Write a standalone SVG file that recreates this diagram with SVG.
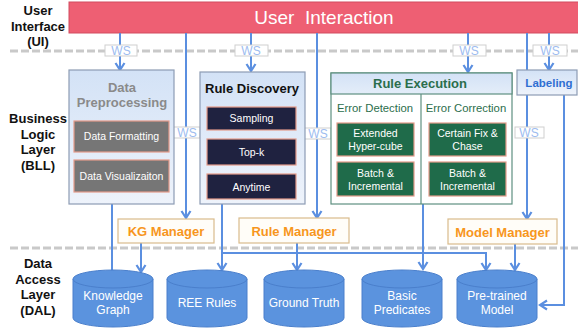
<svg xmlns="http://www.w3.org/2000/svg" width="578" height="335" viewBox="0 0 578 335">
  <defs>
    <linearGradient id="paneFill" x1="0" y1="0" x2="0" y2="1">
      <stop offset="0" stop-color="#d3e2f6"/>
      <stop offset="1" stop-color="#eef3fb"/>
    </linearGradient>
    <linearGradient id="headFill" x1="0" y1="0" x2="0" y2="1">
      <stop offset="0" stop-color="#d3e2f6"/>
      <stop offset="1" stop-color="#e4edf9"/>
    </linearGradient>
    <marker id="arrow" markerUnits="userSpaceOnUse" markerWidth="12" markerHeight="12" refX="10" refY="6" orient="auto">
      <path d="M3,1.5 L10,6 L3,10.5" fill="none" stroke="#5b8fe0" stroke-width="2.2"/>
    </marker>
  </defs>
  <style>
    .layer { font-family: "Liberation Sans", Arial, sans-serif; font-size: 13px; font-weight: bold; fill: #111; text-anchor: middle; }
    .sep { stroke: #c9c9c9; stroke-width: 3; stroke-dasharray: 8 3; fill: none; }
    .wire { stroke: #5b8fe0; stroke-width: 2; fill: none; }
    .ws rect { fill: #fff; stroke: #cfcfcf; stroke-width: 1; }
    .ws text { font-family: "Liberation Sans", Arial, sans-serif; font-size: 12px; fill: #9dbcef; text-anchor: middle; }
    .pane { fill: url(#paneFill); stroke: #8d9cb4; stroke-width: 1.2; }
    .title { font-family: "Liberation Sans", Arial, sans-serif; font-size: 13px; font-weight: bold; text-anchor: middle; }
    .item { stroke: #e59b8a; stroke-width: 1.2; }
    .item-txt { font-family: "Liberation Sans", Arial, sans-serif; font-size: 10.5px; fill: #fff; text-anchor: middle; }
    .grey { fill: #767676; }
    .navy { fill: #1f2240; }
    .green { fill: #1f6b4a; }
    .sub { font-family: "Liberation Sans", Arial, sans-serif; font-size: 11.3px; fill: #2b6e4c; text-anchor: middle; }
    .mgr rect { fill: #fffdf8; stroke: #d9bb8c; stroke-width: 1.2; }
    .mgr text { font-family: "Liberation Sans", Arial, sans-serif; font-size: 13px; font-weight: bold; fill: #f7961d; text-anchor: middle; }
    .db path, .db ellipse { fill: #5b93de; stroke: #4a7fcc; stroke-width: 1; }
    .db text { font-family: "Liberation Sans", Arial, sans-serif; font-size: 12px; fill: #fff; text-anchor: middle; }
  </style>

  <!-- layer captions -->
  <g id="layer-labels">
    <text class="layer" x="38" y="15">User</text>
    <text class="layer" x="38" y="31">Interface</text>
    <text class="layer" x="38" y="46">(UI)</text>
    <text class="layer" x="38" y="123">Business</text>
    <text class="layer" x="38" y="139">Logic</text>
    <text class="layer" x="38" y="154">Layer</text>
    <text class="layer" x="38" y="170">(BLL)</text>
    <text class="layer" x="38" y="268">Data</text>
    <text class="layer" x="38" y="284">Access</text>
    <text class="layer" x="38" y="299">Layer</text>
    <text class="layer" x="38" y="315">(DAL)</text>
  </g>

  <!-- layer separators -->
  <g id="separators">
    <line class="sep" x1="10" y1="51" x2="578" y2="51"/>
    <line class="sep" x1="10" y1="248" x2="578" y2="248"/>
  </g>

  <!-- UI bar -->
  <g id="user-interaction">
    <rect x="69" y="2" width="511" height="31" fill="#ee5f73" stroke="#d24d61" stroke-width="1"/>
    <text x="324" y="24" font-family="'Liberation Sans', Arial, sans-serif" font-size="19" fill="#fff" text-anchor="middle" xml:space="preserve">User  Interaction</text>
  </g>

  <!-- connectors -->
  <g id="connectors">
    <line class="wire" x1="120" y1="33" x2="120" y2="70" marker-end="url(#arrow)"/>
    <line class="wire" x1="186" y1="33" x2="186" y2="218" marker-end="url(#arrow)"/>
    <line class="wire" x1="251" y1="33" x2="251" y2="71" marker-end="url(#arrow)"/>
    <line class="wire" x1="317" y1="33" x2="317" y2="218" marker-end="url(#arrow)"/>
    <line class="wire" x1="468" y1="33" x2="468" y2="72" marker-end="url(#arrow)"/>
    <line class="wire" x1="527" y1="33" x2="527" y2="219" marker-end="url(#arrow)"/>
    <line class="wire" x1="549" y1="33" x2="549" y2="70" marker-end="url(#arrow)"/>
    <polyline class="wire" points="564,95 564,305 540,305" marker-end="url(#arrow)"/>
    <line class="wire" x1="112" y1="204" x2="112" y2="272"/>
    <line class="wire" x1="141" y1="243" x2="141" y2="272" marker-end="url(#arrow)"/>
    <line class="wire" x1="222" y1="204" x2="222" y2="270" marker-end="url(#arrow)"/>
    <polyline class="wire" points="222,253 486,253 486,270" marker-end="url(#arrow)"/>
    <line class="wire" x1="297" y1="243" x2="297" y2="270" marker-end="url(#arrow)"/>
    <line class="wire" x1="423" y1="204" x2="423" y2="269" marker-end="url(#arrow)"/>
    <line class="wire" x1="515" y1="244" x2="515" y2="270" marker-end="url(#arrow)"/>

    <g class="ws"><rect x="105" y="45" width="32" height="11"/><text x="121" y="55">WS</text></g>
    <g class="ws"><rect x="235" y="45" width="33" height="11"/><text x="251" y="55">WS</text></g>
    <g class="ws"><rect x="453" y="45" width="33" height="11"/><text x="469" y="55">WS</text></g>
    <g class="ws"><rect x="533" y="45" width="34" height="11"/><text x="550" y="55">WS</text></g>
    <g class="ws"><rect x="173" y="127" width="27" height="11"/><text x="187" y="137">WS</text></g>
    <g class="ws"><rect x="304" y="128" width="27" height="11"/><text x="318" y="138">WS</text></g>
    <g class="ws"><rect x="515" y="127" width="29" height="11"/><text x="529" y="137">WS</text></g>
  </g>

  <!-- Data Preprocessing -->
  <g id="data-preprocessing">
    <rect class="pane" x="69" y="70" width="105" height="134"/>
    <text class="title" x="122" y="92" fill="#8a8a8a">Data</text>
    <text class="title" x="122" y="107" fill="#8a8a8a">Preprocessing</text>
    <rect class="item grey" x="74" y="121" width="95" height="31"/>
    <text class="item-txt" x="121.5" y="140">Data Formatting</text>
    <rect class="item grey" x="74" y="160" width="95" height="32"/>
    <text class="item-txt" x="121.5" y="179.5">Data Visualizaiton</text>
  </g>

  <!-- Rule Discovery -->
  <g id="rule-discovery">
    <rect class="pane" x="200" y="72" width="105" height="132" stroke="#4c5a74"/>
    <text class="title" x="252" y="93" fill="#111">Rule Discovery</text>
    <rect class="item navy" x="207" y="107" width="89" height="23"/>
    <text class="item-txt" x="251.5" y="122">Sampling</text>
    <rect class="item navy" x="207" y="139" width="89" height="26"/>
    <text class="item-txt" x="251.5" y="156">Top-k</text>
    <rect class="item navy" x="207" y="174" width="89" height="25"/>
    <text class="item-txt" x="251.5" y="190.5">Anytime</text>
  </g>

  <!-- Rule Execution -->
  <g id="rule-execution">
    <rect x="331" y="73" width="181" height="131" fill="#fff" stroke="#5e9080" stroke-width="1.2"/>
    <rect x="331" y="73" width="181" height="21" fill="url(#headFill)" stroke="#5e9080" stroke-width="1.2"/>
    <text class="title" x="420" y="88" fill="#2b6e4c">Rule Execution</text>
    <line x1="421" y1="94" x2="421" y2="204" stroke="#5e9080" stroke-width="1.2"/>
    <text class="sub" x="375" y="112">Error Detection</text>
    <text class="sub" x="466" y="112">Error Correction</text>
    <rect class="item green" x="337" y="123" width="77" height="33"/>
    <text class="item-txt" x="375.5" y="137">Extended</text>
    <text class="item-txt" x="375.5" y="150">Hyper-cube</text>
    <rect class="item green" x="337" y="162" width="77" height="34"/>
    <text class="item-txt" x="375.5" y="177">Batch &amp;</text>
    <text class="item-txt" x="375.5" y="190">Incremental</text>
    <rect class="item green" x="429" y="123" width="77" height="33"/>
    <text class="item-txt" x="467.5" y="137">Certain Fix &amp;</text>
    <text class="item-txt" x="467.5" y="150">Chase</text>
    <rect class="item green" x="429" y="162" width="77" height="34"/>
    <text class="item-txt" x="467.5" y="177">Batch &amp;</text>
    <text class="item-txt" x="467.5" y="190">Incremental</text>
  </g>

  <!-- Labeling -->
  <g id="labeling">
    <rect class="pane" x="517" y="70" width="60" height="25" stroke="#7c8aa6"/>
    <text x="549" y="87" font-family="'Liberation Sans', Arial, sans-serif" font-size="11.5" font-weight="bold" fill="#2f6fd2" text-anchor="middle">Labeling</text>
  </g>

  <!-- managers -->
  <g id="kg-manager" class="mgr">
    <rect x="118" y="219" width="96" height="24"/>
    <text x="166" y="236">KG Manager</text>
  </g>
  <g id="rule-manager" class="mgr">
    <rect x="239" y="218" width="110" height="25"/>
    <text x="294" y="235.5">Rule Manager</text>
  </g>
  <g id="model-manager" class="mgr">
    <rect x="448" y="219" width="109" height="25"/>
    <text x="502.5" y="236.5">Model Manager</text>
  </g>

  <!-- data stores -->
  <g id="knowledge-graph" class="db">
    <path d="M73,279 V318 A40,9 0 0 0 153,318 V279 Z"/>
    <ellipse cx="113" cy="279" rx="40" ry="9"/>
    <text x="113" y="300">Knowledge</text>
    <text x="113" y="314">Graph</text>
  </g>
  <g id="ree-rules" class="db">
    <path d="M167,279 V318 A40,9 0 0 0 247,318 V279 Z"/>
    <ellipse cx="207" cy="279" rx="40" ry="9"/>
    <text x="207" y="307">REE Rules</text>
  </g>
  <g id="ground-truth" class="db">
    <path d="M264,279 V318 A40,9 0 0 0 344,318 V279 Z"/>
    <ellipse cx="304" cy="279" rx="40" ry="9"/>
    <text x="304" y="307">Ground Truth</text>
  </g>
  <g id="basic-predicates" class="db">
    <path d="M362,279 V318 A40,9 0 0 0 442,318 V279 Z"/>
    <ellipse cx="402" cy="279" rx="40" ry="9"/>
    <text x="402" y="300">Basic</text>
    <text x="402" y="314">Predicates</text>
  </g>
  <g id="pretrained-model" class="db">
    <path d="M457,279 V318 A40,9 0 0 0 537,318 V279 Z"/>
    <ellipse cx="497" cy="279" rx="40" ry="9"/>
    <text x="497" y="300">Pre-trained</text>
    <text x="497" y="314">Model</text>
  </g>
</svg>
